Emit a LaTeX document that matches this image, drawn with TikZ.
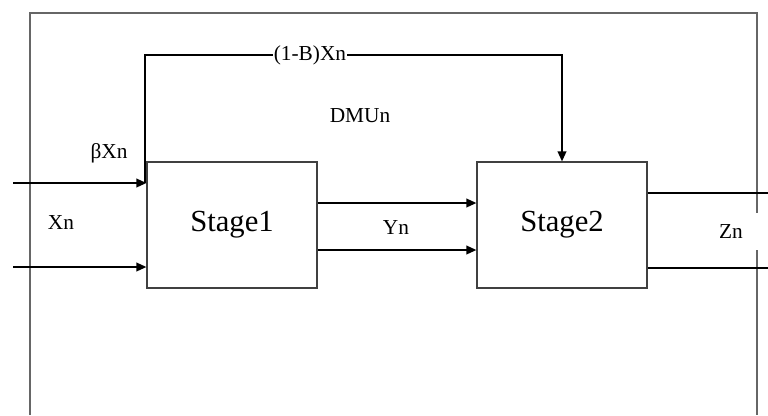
\documentclass[tikz,border=0pt]{standalone}
\usepackage{fontspec}
\setmainfont{Liberation Serif}
\usetikzlibrary{arrows.meta}
\begin{document}
\begin{tikzpicture}[x=0.75pt,y=-0.75pt,
  frame/.style={draw=black!60,line width=1.1pt},
  stagebox/.style={draw=black!75,line width=0.9pt,minimum width=127.5pt,minimum height=94.5pt,inner sep=0pt,font=\fontsize{23}{26}\selectfont},
  flow/.style={draw=black,line width=1.2pt},
  arr/.style={flow,-{Triangle[length=7.5pt,width=6.5pt]}},
  lbl/.style={font=\fontsize{16}{19}\selectfont,inner sep=1pt}]
\useasboundingbox (0,0) rectangle (768,415);
% outer frame
\draw[frame] (30,415) -- (30,13) -- (757,13) -- (757,213);
\draw[frame] (757,250) -- (757,415);
% stages
\node[stagebox] (s1) at (232,225) {Stage1};
\node[stagebox] (s2) at (562,225) {Stage2};
% inputs
\coordinate (ina) at (13,183);
\coordinate (inb) at (13,267);
\draw[arr] (ina) -- (s1.west |- ina);
\draw[arr] (inb) -- (s1.west |- inb);
% feedback
\coordinate (fb0) at (145,183);
\coordinate (fb1) at (145,55);
\coordinate (fb2) at (s2.north |- fb1);
\draw[arr] (fb0) -- (fb1) -- (fb2) -- (s2.north);
\node[lbl,fill=white,inner sep=0.5pt] (lb) at (310,55) {(1-B)Xn};
% middle flows
\coordinate (ma) at (317,203);
\coordinate (mb) at (317,250);
\draw[arr] (s1.east |- ma) -- (s2.west |- ma);
\draw[arr] (s1.east |- mb) -- (s2.west |- mb);
% outputs
\coordinate (oa) at (768,193);
\coordinate (ob) at (768,268);
\draw[flow] (s2.east |- oa) -- (oa);
\draw[flow] (s2.east |- ob) -- (ob);
% labels
\node[lbl] (dmu) at (360,116) {DMUn};
\node[lbl] (bx) at (109,153) {βXn};
\node[lbl] (xn) at (61,223) {Xn};
\node[lbl] (yn) at (396,228) {Yn};
\node[lbl] (zn) at (731,232) {Zn};
\end{tikzpicture}
\end{document}
